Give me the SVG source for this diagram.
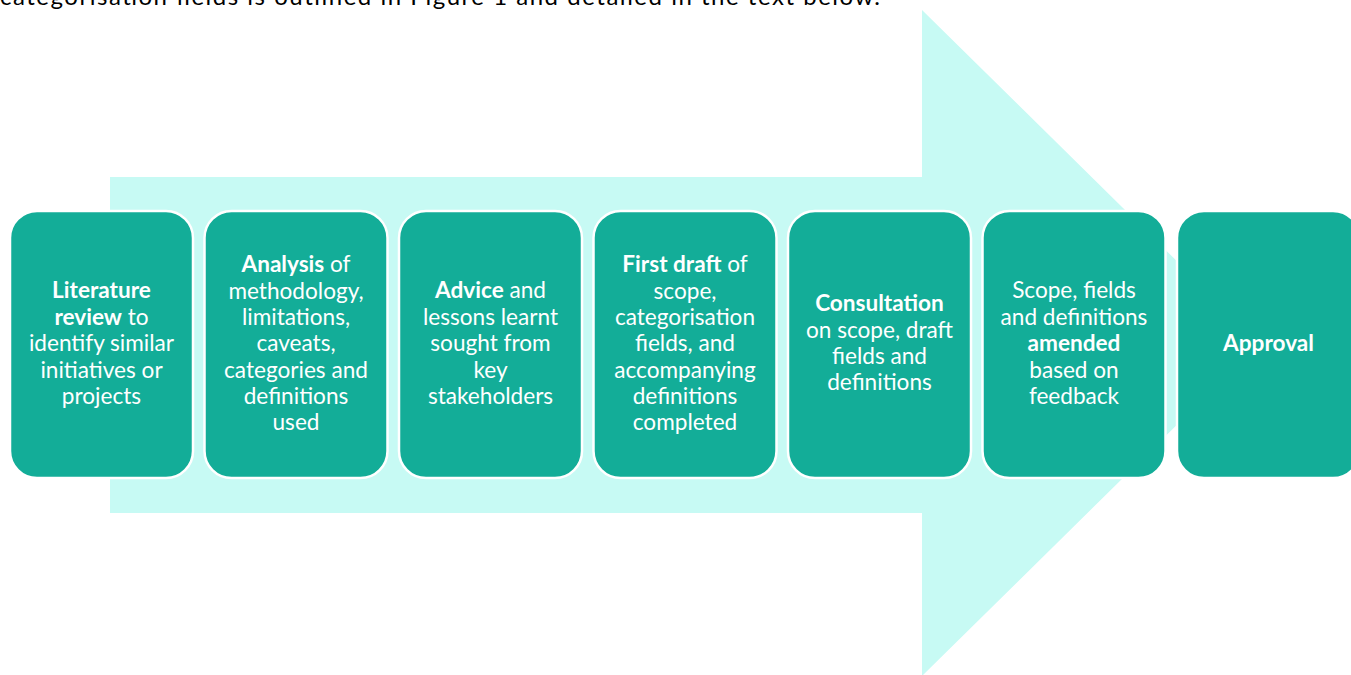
<svg xmlns="http://www.w3.org/2000/svg" width="1351" height="675" viewBox="0 0 1351 675">
<style>
.box{fill:#13ad98;stroke:#ffffff;stroke-width:2.5}
.t{font-family:Lato,"Open Sans","Liberation Sans",sans-serif;font-size:22.6px;fill:#ffffff;text-anchor:middle}
.b{font-weight:bold}
.top{font-family:Lato,"Open Sans","Liberation Sans",sans-serif;font-size:24px;fill:#000000}
</style>
<rect width="1351" height="675" fill="#ffffff"/>
<text class="top" x="0" y="5" textLength="880" lengthAdjust="spacing">categorisation fields is outlined in Figure 1 and detailed in the text below.</text>
<g id="arrow">
<path d="M110,177 L922,177 L922,10 L1260,343 L922,676 L922,513 L110,513 Z" fill="#c7faf4"/>
</g>
<g id="connectors"></g>
<g id="n1">
<rect class="box" x="10" y="211" width="183" height="267" rx="27"/>
<text class="t"><tspan x="101.5" y="298" class="b">Literature</tspan><tspan x="101.5" y="325"><tspan class="b">review</tspan> to</tspan><tspan x="101.5" y="351">identify similar</tspan><tspan x="101.5" y="378">initiatives or</tspan><tspan x="101.5" y="404">projects</tspan></text>
</g>
<g id="n2">
<rect class="box" x="204.5" y="211" width="183" height="267" rx="27"/>
<text class="t"><tspan x="296" y="272"><tspan class="b">Analysis</tspan> of</tspan><tspan x="296" y="299">methodology,</tspan><tspan x="296" y="325">limitations,</tspan><tspan x="296" y="351">caveats,</tspan><tspan x="296" y="378">categories and</tspan><tspan x="296" y="404">definitions</tspan><tspan x="296" y="430">used</tspan></text>
</g>
<g id="n3">
<rect class="box" x="399" y="211" width="183" height="267" rx="27"/>
<text class="t"><tspan x="490.5" y="298"><tspan class="b">Advice</tspan> and</tspan><tspan x="490.5" y="325">lessons learnt</tspan><tspan x="490.5" y="351">sought from</tspan><tspan x="490.5" y="378">key</tspan><tspan x="490.5" y="404">stakeholders</tspan></text>
</g>
<g id="n4">
<rect class="box" x="593.5" y="211" width="183" height="267" rx="27"/>
<text class="t"><tspan x="685" y="272"><tspan class="b">First draft</tspan> of</tspan><tspan x="685" y="299">scope,</tspan><tspan x="685" y="325">categorisation</tspan><tspan x="685" y="351">fields, and</tspan><tspan x="685" y="378">accompanying</tspan><tspan x="685" y="404">definitions</tspan><tspan x="685" y="430">completed</tspan></text>
</g>
<g id="n5">
<rect class="box" x="788" y="211" width="183" height="267" rx="27"/>
<text class="t"><tspan x="879.5" y="311" class="b">Consultation</tspan><tspan x="879.5" y="338">on scope, draft</tspan><tspan x="879.5" y="364">fields and</tspan><tspan x="879.5" y="390">definitions</tspan></text>
</g>
<g id="n6">
<rect class="box" x="982.5" y="211" width="183" height="267" rx="27"/>
<text class="t"><tspan x="1074" y="298">Scope, fields</tspan><tspan x="1074" y="325">and definitions</tspan><tspan x="1074" y="351" class="b">amended</tspan><tspan x="1074" y="378">based on</tspan><tspan x="1074" y="404">feedback</tspan></text>
</g>
<g id="n7">
<rect class="box" x="1177" y="211" width="183" height="267" rx="27"/>
<text class="t"><tspan x="1268.5" y="351" class="b">Approval</tspan></text>
</g>
</svg>
